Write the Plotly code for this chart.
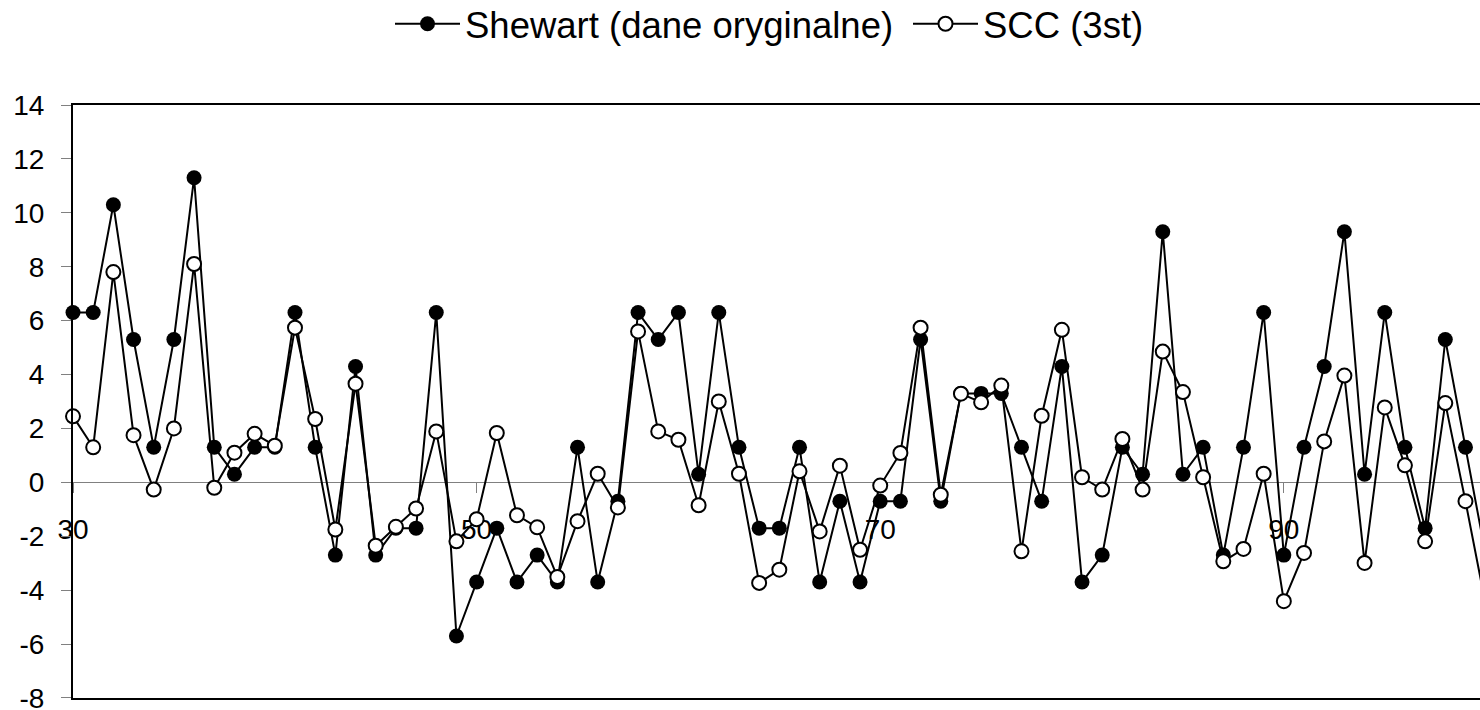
import plotly.graph_objects as go

x_vals = list(range(30, 101))

shewart = [6.3, 6.3, 10.3, 5.3, 1.3, 5.3, 11.3, 1.3, 0.3, 1.3,
           1.3, 6.3, 1.3, -2.7, 4.3, -2.7, -1.7, -1.7, 6.3, -5.7,
           -3.7, -1.7, -3.7, -2.7, -3.7, 1.3, -3.7, -0.7, 6.3, 5.3,
           6.3, 0.3, 6.3, 1.3, -1.7, -1.7, 1.3, -3.7, -0.7, -3.7,
           -0.7, -0.7, 5.3, -0.7, 3.3, 3.3, 3.3, 1.3, -0.7, 4.3,
           -3.7, -2.7, 1.3, 0.3, 9.3, 0.3, 1.3, -2.7, 1.3, 6.3,
           -2.7, 1.3, 4.3, 9.3, 0.3, 6.3, 1.3, -1.7, 5.3, 1.3,
           -2.7]

scc = [2.45, 1.3, 7.8, 1.75, -0.27, 2.0, 8.1, -0.2, 1.1, 1.8,
       1.36, 5.74, 2.35, -1.75, 3.66, -2.35, -1.65, -0.97, 1.89, -2.19,
       -1.37, 1.83, -1.22, -1.67, -3.51, -1.44, 0.32, -0.93, 5.6, 1.89,
       1.58, -0.85, 3.0, 0.32, -3.73, -3.24, 0.41, -1.82, 0.62, -2.5,
       -0.12, 1.09, 5.74, -0.46, 3.29, 2.97, 3.59, -2.56, 2.47, 5.66,
       0.19, -0.27, 1.61, -0.27, 4.85, 3.35, 0.19, -2.93, -2.47, 0.32,
       -4.41, -2.62, 1.52, 3.96, -2.99, 2.78, 0.63, -2.19, 2.94, -0.7,
       -4.54]

x_ticks = [30, 50, 70, 90]
y_ticks = list(range(-8, 15, 2))
y_tick_text = [str(v) for v in y_ticks]

FONT = "Liberation Sans, Arial, sans-serif"
X_RANGE = [30, 99.72]
Y_RANGE = [-8.001, 14]

fig = go.Figure()
fig.add_trace(go.Scatter(
    x=x_vals, y=shewart, name="Shewart (dane oryginalne)",
    mode="lines+markers",
    line=dict(color="black", width=2),
    marker=dict(symbol="circle", size=15, color="black"),
    cliponaxis=False,
))
fig.add_trace(go.Scatter(
    x=x_vals, y=scc, name="SCC (3st)", xaxis="x2",
    mode="lines+markers",
    line=dict(color="black", width=2),
    marker=dict(symbol="circle", size=14, color="white",
                line=dict(color="black", width=2)),
    cliponaxis=False,
))

fig.update_layout(
    width=1480, height=710,
    margin=dict(l=73, r=0, t=105, b=12, pad=0, autoexpand=False),
    paper_bgcolor="white", plot_bgcolor="white",
    font=dict(family=FONT, color="black", size=28),
    showlegend=True,
    legend=dict(
        orientation="h", x=(400 - 73 - 10) / 1407, xanchor="left",
        xref="paper",
        y=1 - 24 / 710, yanchor="middle", yref="container",
        font=dict(family=FONT, size=36.5, color="black"),
        itemwidth=65, entrywidth=438, entrywidthmode="pixels",
        bgcolor="rgba(0,0,0,0)",
    ),
    xaxis=dict(
        range=X_RANGE, showline=True, linecolor="black", linewidth=2,
        mirror=True, showticklabels=False, ticks="", showgrid=False,
        zeroline=False, automargin=False,
    ),
    xaxis2=dict(
        overlaying="x", anchor="free", position=8 / 22,
        range=X_RANGE, tickvals=x_ticks, ticks="outside", ticklen=10,
        tickwidth=1, tickcolor="#808080", showline=False, showgrid=False,
        zeroline=False, tickfont=dict(family=FONT, size=28, color="black"),
        ticklabelstandoff=12, layer="below traces", automargin=False,
    ),
    yaxis=dict(
        range=Y_RANGE, tickvals=y_ticks, ticktext=y_tick_text,
        ticks="outside", ticklen=10, ticklabeloverflow="allow",
        tickwidth=1, tickcolor="#808080", showline=True, linecolor="black",
        linewidth=2, showgrid=False, zeroline=True, zerolinecolor="#808080",
        zerolinewidth=1, tickfont=dict(family=FONT, size=28, color="black"),
        ticklabelstandoff=11, automargin=False,
    ),
)

fig.write_html("out.html")
